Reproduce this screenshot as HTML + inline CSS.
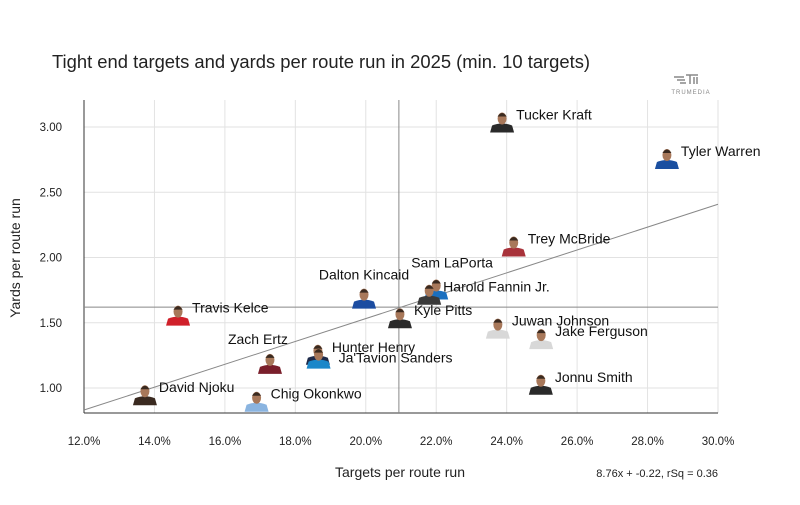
<!DOCTYPE html>
<html><head><meta charset="utf-8"><style>
body{margin:0;background:#fff;font-family:"Liberation Sans",sans-serif}
svg text{font-family:"Liberation Sans",sans-serif}
</style></head><body>
<svg id="c" width="800" height="500" viewBox="0 0 800 500">
<text x="52" y="68" font-size="18.4" fill="#222">Tight end targets and yards per route run in 2025 (min. 10 targets)</text>
<g>
<path d="M674 77h10M677 80h8M680 83h6M686 75h12M690 75v9M694 77v7M697 77v7" stroke="#888" stroke-width="1.5" fill="none"/>
<text x="691" y="94" font-size="6" fill="#888" text-anchor="middle" letter-spacing="1">TRUMEDIA</text>
</g>
<g id="grid"></g><g id="axes"></g><g id="marks"></g>
<text x="400" y="477" font-size="14" fill="#222" text-anchor="middle">Targets per route run</text>
<text transform="translate(20,258) rotate(-90)" font-size="14" fill="#222" text-anchor="middle">Yards per route run</text>
<text x="718" y="477" font-size="11" fill="#222" text-anchor="end">8.76x + -0.22, rSq = 0.36</text>
</svg>
<script>
const players=["Tucker Kraft","Tyler Warren","Trey McBride","Sam LaPorta","Harold Fannin Jr.","Dalton Kincaid","Travis Kelce","Kyle Pitts","Juwan Johnson","Jake Ferguson","Zach Ertz","Hunter Henry","Ja'Tavion Sanders","Jonnu Smith","David Njoku","Chig Okonkwo"];
const tprr=[23.87,28.55,24.2,22.0,21.8,19.95,14.67,20.97,23.75,24.98,17.28,18.64,18.66,24.97,13.73,16.9];
const yprr=[3.05,2.77,2.10,1.77,1.73,1.70,1.57,1.55,1.47,1.39,1.20,1.27,1.24,1.04,0.96,0.91];
const jersey=["#2a2a2a","#1a4fa0","#a8323a","#1a6fbf","#3a3a3a","#1c4da1","#d0202a","#2a2a2a","#d8d8d8","#d8d8d8","#7a1f2b","#1d2a4a","#1b87c9","#2a2a2a","#3a2a20","#8ab4e0"];
const labelPos=["r","r","r","al","r","a","r","r","r","r","al","r","rd","r","r","r"];
const xTicks=[12,14,16,18,20,22,24,26,28,30];
const yTicks=[1.0,1.5,2.0,2.5,3.0];
const slope=8.76, intercept=-0.22, meanX=20.94, meanY=1.62;
const X=v=>84+(v-12)*634/18, Y=v=>127+(3-v)*130.5;
const ns="http://www.w3.org/2000/svg";
function mk(p,t,a){const e=document.createElementNS(ns,t);for(const k in a)e.setAttribute(k,a[k]);p.appendChild(e);return e;}
const g=document.getElementById('grid'),ax=document.getElementById('axes'),m=document.getElementById('marks');
xTicks.forEach(t=>{const l=mk(g,'line',{x1:X(t),x2:X(t),y1:100,y2:413,stroke:'#e2e2e2'});


const tx=mk(ax,'text',{x:X(t),y:445,'font-size':11.5,'text-anchor':'middle',fill:'#222'});tx.textContent=t.toFixed(1)+'%';

});
yTicks.forEach(t=>{const l=mk(g,'line',{x1:84,x2:718,y1:Y(t),y2:Y(t),stroke:'#e2e2e2'});


const tx=mk(ax,'text',{x:62,y:Y(t)+4,'font-size':11.5,'text-anchor':'end',fill:'#222'});tx.textContent=t.toFixed(2);

});
let a=mk(ax,'line',{x1:84,x2:84,y1:100,y2:413,stroke:'#333'});
a=mk(ax,'line',{x1:84,x2:718,y1:413,y2:413,stroke:'#333'});
a=mk(ax,'line',{x1:X(meanX),x2:X(meanX),y1:100,y2:413,stroke:'#888'});
a=mk(ax,'line',{x1:84,x2:718,y1:Y(meanY),y2:Y(meanY),stroke:'#888'});
a=mk(ax,'line',{x1:X(12),x2:X(30),y1:Y(slope*0.12+intercept),y2:Y(slope*0.30+intercept),stroke:'#888'});
players.forEach((n,i)=>{const cx=X(tprr[i]),cy=Y(yprr[i]);
const grp=mk(m,'g',{});


mk(grp,'path',{d:`M${cx-12} ${cy+12}L${cx-10} ${cy+5}Q${cx} ${cy+1} ${cx+10} ${cy+5}L${cx+12} ${cy+12}Z`,fill:jersey[i]});
mk(grp,'ellipse',{cx:cx,cy:cy-2,rx:4.5,ry:6,fill:'#a8785a'});
mk(grp,'path',{d:`M${cx-4.5} ${cy-4}Q${cx} ${cy-11} ${cx+4.5} ${cy-4}`,fill:'#3a2a20'});
let tx,ty,anc='start';
if(labelPos[i]=='r'){tx=cx+14;ty=cy-1;}
else if(labelPos[i]=='rd'){tx=cx+20;ty=cy+6;}
else if(labelPos[i]=='a'){tx=cx;ty=cy-17;anc='middle';}
else{tx=cx-25;ty=cy-20;if(n=='Zach Ertz'){tx=cx-42;ty=cy-18;}}
const t=mk(grp,'text',{x:tx,y:ty,'font-size':14,fill:'#111','text-anchor':anc});t.textContent=n;});
</script>
</body></html>
